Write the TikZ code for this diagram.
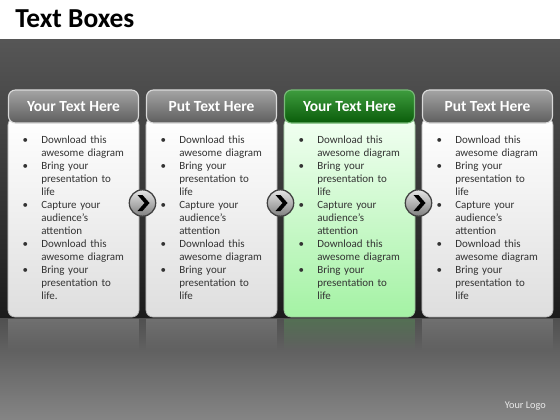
\documentclass[tikz,border=0pt]{standalone}
\usepackage{fontspec}
\setmainfont{Carlito}
\usepackage{enumitem}
\usetikzlibrary{positioning, shapes, fadings}

\definecolor{bandtop}{HTML}{565656}
\definecolor{bandbot}{HTML}{1C1C1C}
\definecolor{floortop}{HTML}{505050}
\definecolor{floormid}{HTML}{4A4A4A}
\definecolor{floorbot}{HTML}{858585}
\definecolor{headtop}{HTML}{A4A4A4}
\definecolor{headbot}{HTML}{5E5E5E}
\definecolor{greentop}{HTML}{3E9C3E}
\definecolor{greenbot}{HTML}{0A5C0A}
\definecolor{paletop}{HTML}{F2FFF2}
\definecolor{palebot}{HTML}{A4F2A4}
\definecolor{textgray}{HTML}{333333}

\tikzset{
  headbox/.style={rectangle, rounded corners=5pt, line width=0.8pt,
    minimum width=3.25cm, minimum height=0.825cm, text=white,
    font=\bfseries\fontsize{11pt}{12pt}\selectfont},
  grayhead/.style={draw=black!15, top color=headtop, bottom color=headbot},
  greenhead/.style={draw=greentop!70!white, top color=greentop, bottom color=greenbot},
  bodybox/.style={rectangle, rounded corners=5pt, line width=0.5pt,
    minimum width=3.275cm, minimum height=4.975cm},
  graybody/.style={draw=black!30, top color=white, bottom color=black!13},
  greenbody/.style={draw=green!40!black!40, top color=paletop, bottom color=palebot},
  pointlist/.style={anchor=north west, text width=2.9cm, inner sep=0pt,
    text=textgray, font=\fontsize{7.8pt}{9.25pt}\selectfont},
  arrowball/.style={circle, minimum size=0.66cm, draw=black!75, line width=0.9pt,
    top color=black!10, bottom color=black!50}
}

\newcommand{\boxpoints}[1]{%
  \begin{itemize}[label=\textbullet, leftmargin=0.4cm, labelsep=0.33cm,
      itemsep=0pt, topsep=0pt, parsep=0pt, partopsep=0pt]
    \item Download this\\awesome diagram
    \item Bring your\\presentation to\\life
    \item Capture your\\audience's\\attention
    \item Download this\\awesome diagram
    \item Bring your\\presentation to\\#1
  \end{itemize}}

\begin{document}
\begin{tikzpicture}[x=0.025cm, y=-0.025cm]
  \useasboundingbox (0,0) rectangle (560,420);

  % Background
  \fill[white] (0,0) rectangle (560,40);
  \path[top color=bandtop, bottom color=bandbot] (0,40) rectangle (560,318);
  \path[top color=floortop, middle color=floormid, bottom color=floorbot] (0,318) rectangle (560,420);
  \node[anchor=base west, inner sep=0pt, font=\bfseries\fontsize{19.5pt}{22pt}\selectfont] (title) at (15,28) {Text Boxes};
  \node[anchor=base east, inner sep=0pt, text=black!8, font=\fontsize{7.3pt}{9pt}\selectfont] (logo) at (546,408) {Your Logo};

  % Boxes
  \foreach \i/\x/\head/\last/\hs/\bs/\rc in {1/73.5/Your Text Here/life./grayhead/graybody/white,
      2/211.5/Put Text Here/life/grayhead/graybody/white,
      3/349.5/Your Text Here/life/greenhead/greenbody/green!60,
      4/487.5/Put Text Here/life/grayhead/graybody/white}
  {
    \fill[\rc, opacity=0.18, path fading=south] (\x-65.5,319) rectangle (\x+65.5,350);
    \node[bodybox, \bs] (body\i) at (\x,217.5) {};
    \node[headbox, \hs] (head\i) at (\x,106.5) {\head};
    \node[pointlist] (list\i) at (\x-48.5,130) {\boxpoints{\last}};
  }

  % Arrows
  \foreach \j in {1,2,3}
  {
    \node[arrowball] (arr\j) at (142.5+138*\j-138,203) {};
    \begin{scope}[shift={(arr\j.center)}]
      \fill[black] (-5,-8) -- (0,-8) -- (7,0) -- (0,8) -- (-5,8) -- (2,0) -- cycle;
    \end{scope}
  }
\end{tikzpicture}
\end{document}
